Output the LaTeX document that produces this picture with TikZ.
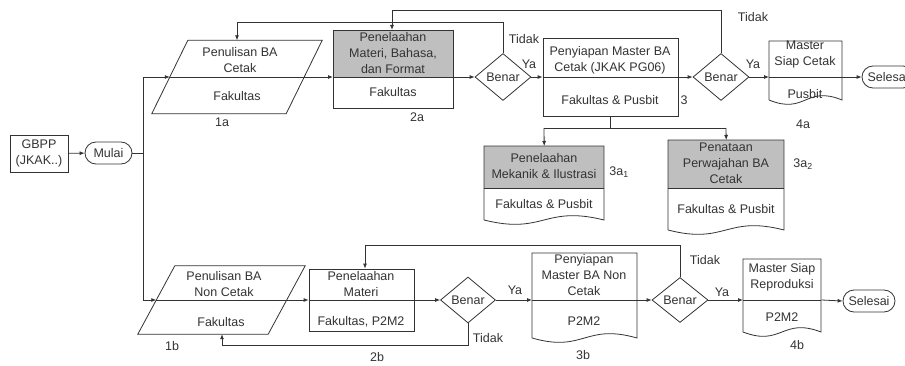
\documentclass[tikz,border=0pt]{standalone}
\usepackage{fontspec}
\setmainfont{Liberation Sans}
\usetikzlibrary{arrows.meta,shapes.misc,shapes.geometric,calc}
\definecolor{lc}{HTML}{333333}
\definecolor{gf}{HTML}{BFBFBF}
\newcommand\dgfont{\fontsize{12.5pt}{16pt}\selectfont}
\newcommand\docshape[4]{\draw[ln] (#1,#4) -- (#1,#3) -- (#2,#3) -- (#2,#4) .. controls ({(#1+#2)/2},#4-15) and ({(#1+#2)/2},#4+15) .. (#1,#4);}
\tikzset{
  ln/.style={draw=lc, line width=0.8pt},
  arr/.style={ln, -{Latex[length=5pt,width=4pt]}},
  txt/.style={align=center, inner sep=0pt, font=\dgfont, text=lc},
  lbl/.style={inner sep=0pt, font=\dgfont, text=lc},
  inv/.style={draw=none, rectangle, inner sep=0pt},
  boxnode/.style={ln, rectangle, inner sep=0pt},
  pill/.style={ln, rounded rectangle, inner sep=0pt, minimum height=22pt, font=\dgfont, text=lc},
  dia/.style={ln, diamond, inner sep=0pt, minimum width=56pt, minimum height=47pt, font=\dgfont, text=lc},
}
\begin{document}
\begin{tikzpicture}[x=1pt,y=-1pt]
\useasboundingbox (0,0) rectangle (905,366);
\clip (0,0) rectangle (905,366);
\fill[white] (0,0) rectangle (905,366);

% start
\node[boxnode, minimum width=58pt, minimum height=37pt, txt, draw=lc, line width=0.8pt] (gbpp) at (39,153.5) {GBPP\\(JKAK..)};
\node[pill, minimum width=47pt] (mulai) at (108.5,153) {Mulai};
\draw[arr] (gbpp) -- (mulai);
\coordinate (tr) at (143,153);
\coordinate (trt) at (143,77);
\coordinate (trb) at (143,300);
\draw[ln] (mulai.east) -- (tr);
\draw[ln] (trt) -- (trb);

% 1a parallelogram
\node[inv, minimum width=170pt, minimum height=73pt] (p1a) at (237,77) {};
\draw[ln] (p1a.south west) -- ([xshift=36pt]p1a.north west) -- (p1a.north east) -- ([xshift=-36pt]p1a.south east) -- cycle;
\draw[ln] ([xshift=18pt]p1a.west) -- ([xshift=-18pt]p1a.east);
\node[txt] (t1a) at (240,60) {Penulisan BA\\Cetak};
\node[txt] (u1a) at (237,96) {Fakultas};
\node[lbl] (l1a) at (222,122) {1a};
\draw[arr] (trt) -- ([xshift=18pt]p1a.west);

% 2a
\fill[gf] (333,30) rectangle (453,77);
\node[boxnode, anchor=north west, minimum width=120pt, minimum height=78pt] (b2a) at (333,30) {};
\draw[ln] (333,77) -- (453,77);
\node[txt] (t2a) at (393,53) {Penelaahan\\Materi, Bahasa,\\dan Format};
\node[txt] (u2a) at (393,92) {Fakultas};
\node[lbl] (l2a) at (417,117) {2a};
\draw[arr] ([xshift=-18pt]p1a.east) -- (b2a.west |- p1a.east);

% d1
\node[dia] (d1) at (503,77) {Benar};
\draw[arr] (b2a.east |- d1) -- (d1.west);
\node[lbl] (ty1) at (524,39) {Tidak};
\node[lbl] (ya1) at (529,64) {Ya};

% 3
\node[boxnode, minimum width=135pt, minimum height=78pt] (b3) at (610.5,77) {};
\draw[ln] (b3.west) -- (b3.east);
\node[txt] (t3) at (610,60) {Penyiapan Master BA\\Cetak (JKAK PG06)};
\node[txt] (u3) at (610,100) {Fakultas \& Pusbit};
\node[lbl] (l3) at (684,100) {3};
\draw[arr] (d1.east) -- (b3.west);

% d2
\node[dia] (d2) at (721,77) {Benar};
\draw[arr] (b3.east) -- (d2.west);
\node[lbl] (ty2) at (753,17) {Tidak};
\node[lbl] (ya2) at (753,64) {Ya};

% 4a
\node[inv, anchor=north west, minimum width=73pt, minimum height=66pt] (doc4a) at (769,41) {};
\docshape{769}{842}{41}{100}
\draw[ln] (769,77) -- (842,77);
\node[txt] (t4a) at (805,54) {Master\\Siap Cetak};
\node[txt] (u4a) at (805,94) {Pusbit};
\node[lbl] (l4a) at (803,124) {4a};
\draw[arr] (d2.east) -- (doc4a.west |- d2);
\node[pill, minimum width=52pt] (sel1) at (888,77) {Selesai};
\draw[arr] (doc4a.east |- d2) -- (sel1.west);

% feedback top
\coordinate (f1) at (237,22);
\coordinate (f2) at (392,10);
\draw[arr] (d1.north) |- (f1) -- (p1a.north);
\draw[arr] (d2.north) |- (f2) -- (f2 |- b2a.north);

% branch 3a
\fill[gf] (484,146) rectangle (604,188);
\docshape{484}{604}{146}{220}
\draw[ln] (484,188) -- (604,188);
\node[inv, anchor=north west, minimum width=120pt, minimum height=80pt] (d3a1) at (484,146) {};
\node[txt] (t3a1) at (544,166) {Penelaahan\\Mekanik \& Ilustrasi};
\node[txt] (u3a1) at (544,204) {Fakultas \& Pusbit};
\node[lbl] (l3a1) at (619,172) {3a\textsubscript{1}};

\fill[gf] (668,140) rectangle (784,188);
\docshape{668}{784}{140}{230}
\draw[ln] (668,188) -- (784,188);
\node[inv, anchor=north west, minimum width=116pt, minimum height=92pt] (d3a2) at (668,140) {};
\node[txt] (t3a2) at (726,163) {Penataan\\Perwajahan BA\\Cetak};
\node[txt] (u3a2) at (726,209) {Fakultas \& Pusbit};
\node[lbl] (l3a2) at (803,164) {3a\textsubscript{2}};

\coordinate (bra) at (544,128);
\coordinate (brb) at (726,128);
\draw[ln] (b3.south) -- (b3.south |- bra);
\draw[ln] (bra) -- (brb);
\draw[arr] (bra) -- (d3a1.north);
\draw[arr] (brb) -- (d3a2.north);

% bottom row
\node[inv, minimum width=167pt, minimum height=68pt] (p1b) at (221.5,300) {};
\draw[ln] (p1b.south west) -- ([xshift=37pt]p1b.north west) -- (p1b.north east) -- ([xshift=-37pt]p1b.south east) -- cycle;
\draw[ln] ([xshift=18.5pt]p1b.west) -- ([xshift=-18.5pt]p1b.east);
\node[txt] (t1b) at (224,284) {Penulisan BA\\Non Cetak};
\node[txt] (u1b) at (221,322) {Fakultas};
\node[lbl] (l1b) at (172,346) {1b};
\draw[arr] (trb) -- ([xshift=18.5pt]p1b.west);

\node[boxnode, minimum width=105pt, minimum height=62pt] (b2b) at (361.5,300) {};
\node[txt] (t2b) at (361,284) {Penelaahan\\Materi};
\node[txt] (u2b) at (361,322) {Fakultas, P2M2};
\node[lbl] (l2b) at (377,357) {2b};
\draw[arr] ([xshift=-18.5pt]p1b.east) -- (b2b.west);

\node[dia, minimum width=55pt, minimum height=46pt] (d3) at (468,300) {Benar};
\draw[ln] (b2b.west) -- (b2b.east);
\draw[arr] (b2b.east) -- (d3.west);
\node[lbl] (ty3) at (488,338) {Tidak};
\node[lbl] (ya3) at (515,290) {Ya};

\docshape{532}{637}{253}{338}
\draw[ln] (532,300) -- (637,300);
\node[inv, anchor=north west, minimum width=105pt, minimum height=94pt] (doc3b) at (532,253) {};
\node[txt] (t3b) at (584,275) {Penyiapan\\Master BA Non\\Cetak};
\node[txt] (u3b) at (584,321) {P2M2};
\node[lbl] (l3b) at (583,355) {3b};
\draw[arr] (d3.east) -- (doc3b.west |- d3);

\node[dia, minimum width=56pt, minimum height=45pt] (d4) at (680,300) {Benar};
\draw[arr] (doc3b.east |- d3) -- (d4.west);
\node[lbl] (ty4) at (705,260) {Tidak};
\node[lbl] (ya4) at (722,292) {Ya};

\docshape{743}{821}{259}{332}
\draw[ln] (743,300) -- (821,300);
\node[inv, anchor=north west, minimum width=78pt, minimum height=80pt] (doc4b) at (743,259) {};
\node[txt] (t4b) at (782,277) {Master Siap\\Reproduksi};
\node[txt] (u4b) at (782,317) {P2M2};
\node[lbl] (l4b) at (797,345) {4b};
\draw[arr] (d4.east) -- (doc4b.west |- d4);
\node[pill, minimum width=52pt] (sel2) at (869,301) {Selesai};
\draw[arr] (doc4b.east |- d4) -- (sel2.west);

% feedback bottom
\coordinate (f3) at (222,345);
\coordinate (f4) at (365,245);
\draw[arr] (d3.south) |- (f3) -- (f3 |- p1b.south);
\draw[arr] (d4.north) |- (f4) -- (f4 |- b2b.north);
\end{tikzpicture}
\end{document}
